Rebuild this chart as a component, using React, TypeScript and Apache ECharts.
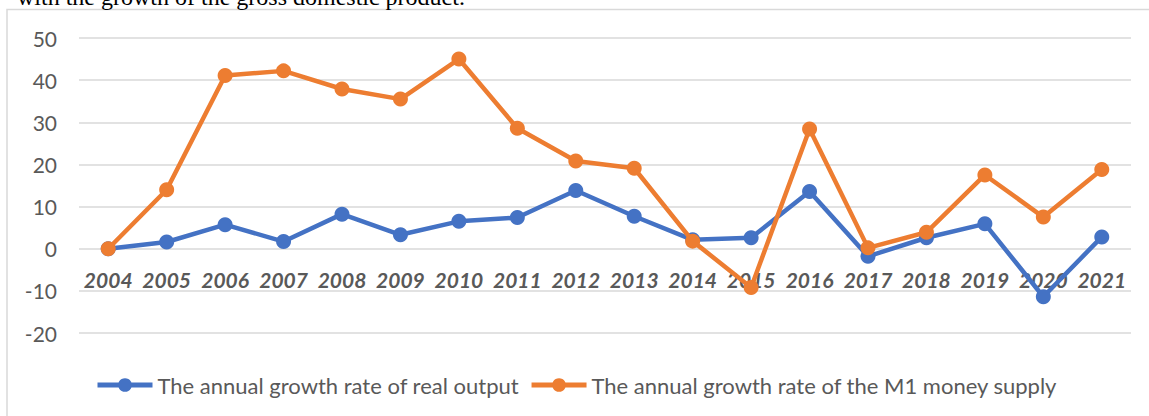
import React, { useEffect, useRef } from "react";
import * as echarts from "echarts";

const years = ["2004","2005","2006","2007","2008","2009","2010","2011","2012","2013","2014","2015","2016","2017","2018","2019","2020","2021"];
const realOutput = [0, 1.6, 5.7, 1.7, 8.2, 3.3, 6.5, 7.4, 13.8, 7.7, 2.1, 2.6, 13.6, -1.8, 2.6, 5.9, -11.4, 2.8];
const m1Supply = [0, 14.0, 41.1, 42.2, 37.9, 35.5, 45.0, 28.6, 20.8, 19.1, 1.8, -9.2, 28.4, 0.2, 3.9, 17.5, 7.5, 18.8];
const seriesNames = ["The annual growth rate of real output", "The annual growth rate of the M1 money supply"];
const captionText = "with the growth of the gross domestic product.";

export default function App() {
  const ref = useRef<HTMLDivElement>(null);
  useEffect(() => {
    if (!ref.current) return;
    const chart = echarts.init(ref.current, null, { renderer: "svg" });
    const font = "Lato, 'Open Sans', sans-serif";
    chart.setOption({
      animation: false,
      backgroundColor: "#ffffff",
      graphic: [
        {
          type: "rect",
          shape: { x: 7, y: 9.5, width: 1160, height: 420 },
          style: { fill: "none", stroke: "#d9d9d9", lineWidth: 1.5 },
          z: -1,
        },
        {
          type: "text",
          x: 17,
          y: -3.5,
          style: {
            text: captionText,
            font: "24px 'Liberation Serif', 'Times New Roman', serif",
            fill: "#000000",
            verticalAlign: "middle",
          },
        },
      ],
      grid: { left: 79, right: 18, top: 38, bottom: 83, containLabel: false },
      legend: {
        left: 95,
        top: 374,
        padding: 0,
        itemWidth: 55,
        itemHeight: 17,
        itemGap: 10,
        textStyle: { fontFamily: font, fontSize: 22, color: "#595959" },
        lineStyle: { width: 5 },
        data: seriesNames.map((name) => ({ name, lineStyle: { width: 5 } })),
      },
      xAxis: {
        type: "category",
        data: years,
        boundaryGap: true,
        offset: -84.3,
        axisLine: { show: false, onZero: false },
        axisTick: { show: false },
        axisLabel: {
          margin: 20,
          fontFamily: font,
          fontSize: 21,
          fontWeight: "bold",
          fontStyle: "italic",
          color: "#595959",
          interval: 0,
        },
      },
      yAxis: {
        type: "value",
        min: -20,
        max: 50,
        interval: 10,
        axisLine: { show: false },
        axisTick: { show: false },
        splitLine: { lineStyle: { color: "#d9d9d9", width: 1.5 } },
        axisLabel: { margin: 22, fontFamily: font, fontSize: 21, color: "#595959" },
      },
      series: [
        {
          name: seriesNames[0],
          type: "line",
          data: realOutput,
          symbol: "circle",
          symbolSize: 15,
          itemStyle: { color: "#4472C4" },
          lineStyle: { color: "#4472C4", width: 4.5 },
          z: 2,
        },
        {
          name: seriesNames[1],
          type: "line",
          data: m1Supply,
          symbol: "circle",
          symbolSize: 15,
          itemStyle: { color: "#ED7D31" },
          lineStyle: { color: "#ED7D31", width: 4.5 },
          z: 3,
        },
      ],
    });
    return () => chart.dispose();
  }, []);
  return (
    <div
      ref={ref}
      style={{ position: "absolute", left: 0, top: 0, width: 1149, height: 416 }}
    />
  );
}
